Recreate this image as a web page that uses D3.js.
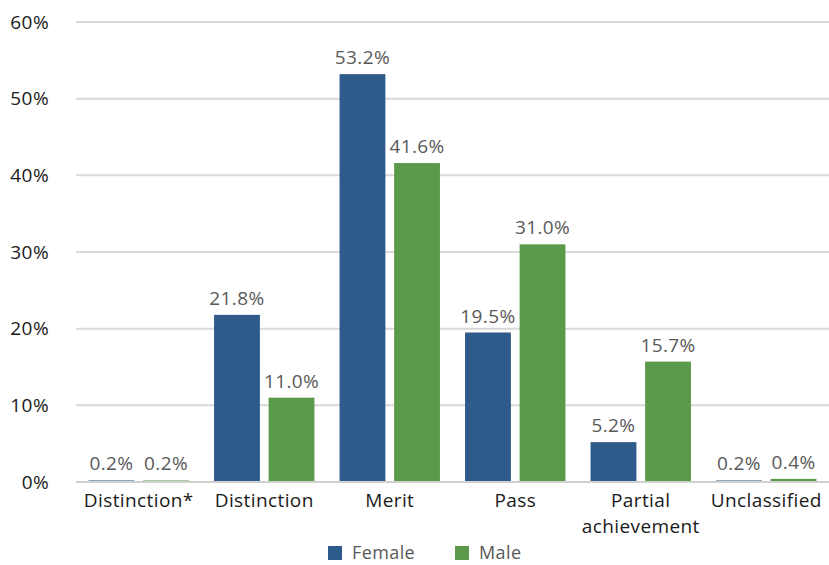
<!DOCTYPE html>
<html>
<head>
<meta charset="utf-8">
<script src="https://cdn.jsdelivr.net/npm/d3@7"></script>
<style>
  body { margin: 0; background: #fff; }
  text { font-family: "Open Sans", "Noto Sans", sans-serif; letter-spacing: 0.4px; }
</style>
</head>
<body>
<svg class="grade-chart"></svg>
<script>
var categories = ["Distinction*", "Distinction", "Merit", "Pass", "Partial achievement", "Unclassified"];
var series = ["Female", "Male"];
var female = [0.2, 21.8, 53.2, 19.5, 5.2, 0.2];
var male = [0.2, 11.0, 41.6, 31.0, 15.7, 0.4];
var yTicks = [0, 10, 20, 30, 40, 50, 60];
var colors = ["#2e5a8c", "#5b9a4a"];

var width = 829, height = 565;
var margin = {top: 22, right: 0, bottom: 83, left: 76};
var plotW = width - margin.left - margin.right;
var plotH = height - margin.top - margin.bottom;
var fs = 19;

var data = categories.map(function(c, i) {
  return {cat: c, values: [female[i], male[i]]};
});

var svg = d3.select(".grade-chart")
  .attr("width", width)
  .attr("height", height);

var chart = svg.append("g")
  .attr("transform", "translate(" + margin.left + "," + margin.top + ")");

var x = d3.scaleBand().domain(categories).range([0, plotW]).paddingInner(0.2).paddingOuter(0.1);
var x1 = d3.scaleBand().domain(series).range([0, x.bandwidth()]).paddingInner(0.16);
var y = d3.scaleLinear().domain([0, 60]).range([plotH, 0]);

// gridlines
chart.selectAll(".grid")
  .data(yTicks)
  .enter().append("line")
  .attr("x1", 0)
  .attr("x2", plotW)
  .attr("y1", function(d) { return y(d); })
  .attr("y2", function(d) { return y(d); })
  .attr("stroke", "#d9d9d9")
  .attr("stroke-width", 2);

// y tick labels
chart.selectAll(".ylab")
  .data(yTicks)
  .enter().append("text")
  .attr("x", -27)
  .attr("y", function(d) { return y(d); })
  .attr("dy", "0.35em")
  .attr("text-anchor", "end")
  .attr("font-size", fs)
  .attr("fill", "#1a1a1a")
  .text(function(d) { return d + "%"; });

var groups = chart.selectAll(".group")
  .data(data)
  .enter().append("g")
  .attr("transform", function(d) { return "translate(" + x(d.cat) + ",0)"; });

groups.selectAll("rect")
  .data(function(d) { return d.values.map(function(v, i) { return {s: series[i], v: v, i: i}; }); })
  .enter().append("rect")
  .attr("x", function(d) { return x1(d.s); })
  .attr("y", function(d) { return y(d.v); })
  .attr("width", x1.bandwidth())
  .attr("height", function(d) { return plotH - y(d.v); })
  .attr("fill", function(d) { return colors[d.i]; });

groups.selectAll(".val")
  .data(function(d) { return d.values.map(function(v, i) { return {s: series[i], v: v, i: i}; }); })
  .enter().append("text")
  .attr("x", function(d) { return x1(d.s) + x1.bandwidth() / 2; })
  .attr("y", function(d) { return y(d.v) - 10; })
  .attr("text-anchor", "middle")
  .attr("font-size", fs)
  .attr("fill", "#595959")
  .text(function(d) { return d.v.toFixed(1) + "%"; });

// baseline
chart.append("line")
  .attr("x1", 0).attr("x2", plotW)
  .attr("y1", y(0)).attr("y2", y(0))
  .attr("stroke", "#d0d0d0")
  .attr("stroke-width", 2);

// x labels (wrap "Partial achievement")
chart.selectAll(".xlab")
  .data(categories)
  .enter().append("text")
  .attr("x", function(d) { return x(d) + x.bandwidth() / 2; })
  .attr("y", plotH + 25)
  .attr("text-anchor", "middle")
  .attr("font-size", fs)
  .attr("fill", "#1a1a1a")
  .each(function(d) {
    var lines = d === "Partial achievement" ? ["Partial", "achievement"] : [d];
    var t = d3.select(this);
    lines.forEach(function(l, k) {
      t.append("tspan")
        .attr("x", x(d) + x.bandwidth() / 2)
        .attr("dy", k === 0 ? 0 : 26)
        .text(l);
    });
  });

// legend
var legend = svg.append("g").attr("transform", "translate(328,546)");
var legX = [0, 127];
series.forEach(function(s, i) {
  var g = legend.append("g").attr("transform", "translate(" + legX[i] + ",0)");
  g.append("rect").attr("width", 14).attr("height", 14).attr("fill", colors[i]);
  g.append("text")
    .attr("x", 24)
    .attr("y", 7)
    .attr("dy", "0.35em")
    .attr("font-size", 18)
    .attr("fill", "#595959")
    .text(s);
});
</script>
</body>
</html>
